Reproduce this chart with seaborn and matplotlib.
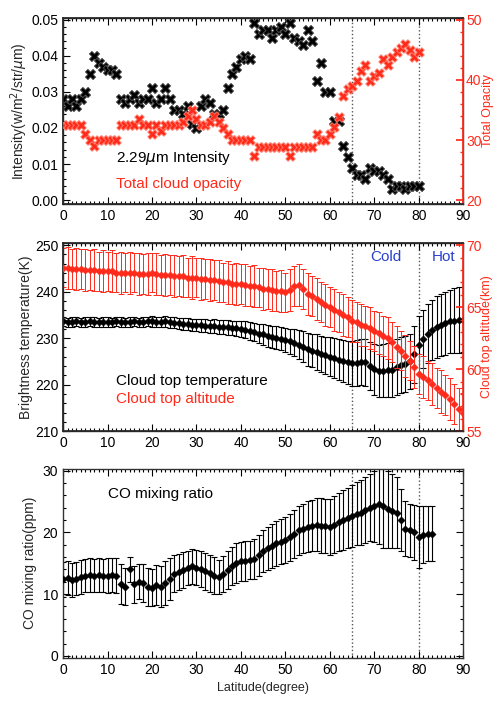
import numpy as np
import pandas as pd
import seaborn as sns
import matplotlib.pyplot as plt
from matplotlib.ticker import AutoMinorLocator, MultipleLocator

# Panel 1: 2.29 um intensity and total cloud opacity
int_lat = list(range(0, 81))
intensity = [
    0.028, 0.026, 0.028, 0.026, 0.028, 0.030, 0.035, 0.040, 0.038, 0.037,
    0.036, 0.036, 0.035, 0.028, 0.027, 0.028, 0.029, 0.027, 0.028, 0.028,
    0.031, 0.027, 0.028, 0.031, 0.028, 0.025, 0.025, 0.024, 0.026, 0.021,
    0.020, 0.026, 0.028, 0.027, 0.024, 0.024, 0.025, 0.031, 0.035, 0.037,
    0.039, 0.040, 0.039, 0.049, 0.046, 0.047, 0.047, 0.045, 0.047, 0.048,
    0.046, 0.049, 0.045, 0.044, 0.043, 0.047, 0.044, 0.033, 0.038, 0.030,
    0.030, 0.022, 0.022, 0.015, 0.012, 0.009, 0.007, 0.007, 0.006, 0.009,
    0.008, 0.008, 0.007, 0.006, 0.003, 0.004, 0.004, 0.003, 0.004, 0.004,
    0.004,
]
opacity = [
    32.5, 32.5, 32.5, 32.5, 32.5, 31.0, 30.0, 29.0, 30.0, 30.0,
    30.0, 30.0, 30.0, 32.5, 32.5, 32.5, 32.5, 33.5, 32.5, 32.5,
    31.0, 32.5, 31.5, 32.5, 32.5, 32.5, 32.5, 33.0, 34.0, 35.0,
    33.5, 32.5, 32.5, 33.0, 34.0, 33.0, 32.0, 31.0, 30.0, 30.0,
    30.0, 30.0, 30.0, 27.4, 28.8, 28.8, 28.8, 28.8, 28.8, 28.8,
    28.8, 27.4, 28.8, 28.8, 28.8, 28.8, 28.8, 31.0, 30.0, 30.0,
    31.0, 32.2, 33.9, 37.3, 38.4, 39.0, 39.8, 41.5, 42.4, 39.8,
    40.7, 41.2, 43.5, 42.4, 43.8, 44.6, 45.3, 46.0, 44.9, 43.8,
    44.6,
]

# Panel 2: cloud top temperature and altitude
bt_lat = list(range(0, 91))
temperature = [
    233.6, 233.4, 233.5, 233.6, 233.4, 233.5, 233.6, 233.5, 233.4, 233.5,
    233.5, 233.4, 233.6, 233.5, 233.4, 233.5, 233.6, 233.4, 233.5, 233.6,
    233.6, 233.5, 233.5, 233.6, 233.4, 233.3, 233.2, 233.1, 233.0, 232.9,
    232.8, 232.8, 232.7, 232.6, 232.6, 232.5, 232.4, 232.3, 232.2, 232.1,
    232.0, 231.8, 231.6, 231.3, 231.0, 230.8, 230.5, 230.3, 230.1, 229.9,
    229.6, 229.3, 229.0, 228.6, 228.2, 227.6, 227.3, 227.0, 226.6, 226.3,
    226.0, 225.7, 225.4, 225.1, 224.8, 224.6, 224.7, 224.9, 224.8, 224.0,
    223.3, 223.0, 223.0, 223.1, 223.2, 223.8, 224.2, 224.4, 225.0, 226.5,
    228.5, 229.8, 231.0, 231.8, 232.4, 232.8, 233.2, 233.6, 233.8, 233.9,
    234.0,
]
temperature_err = [
    1.0, 1.0, 1.0, 1.0, 1.0, 1.0, 1.0, 1.0, 1.0, 1.0,
    1.0, 1.0, 1.0, 1.0, 1.0, 1.0, 1.0, 1.0, 1.0, 1.0,
    1.1, 1.1, 1.1, 1.2, 1.2, 1.2, 1.2, 1.3, 1.3, 1.3,
    1.3, 1.4, 1.4, 1.4, 1.5, 1.5, 1.5, 1.6, 1.6, 1.6,
    1.7, 1.8, 1.9, 2.0, 2.1, 2.2, 2.3, 2.4, 2.5, 2.5,
    2.5, 2.7, 2.9, 3.1, 3.3, 3.5, 3.6, 3.8, 3.9, 4.0,
    4.2, 4.3, 4.4, 4.5, 4.6, 4.8, 4.9, 5.0, 5.1, 5.2,
    5.5, 5.6, 5.7, 5.8, 5.9, 6.0, 6.0, 6.0, 6.0, 6.1,
    6.2, 6.3, 6.4, 6.5, 6.6, 6.7, 6.8, 6.8, 6.9, 7.0,
    7.0,
]
altitude = [
    68.2, 68.2, 68.1, 68.1, 68.1, 68.0, 68.0, 68.0, 67.9, 67.9,
    67.9, 67.9, 67.8, 67.8, 67.8, 67.8, 67.8, 67.7, 67.7, 67.7,
    67.8, 67.7, 67.6, 67.6, 67.6, 67.5, 67.5, 67.5, 67.4, 67.4,
    67.4, 67.3, 67.3, 67.2, 67.2, 67.1, 67.0, 67.0, 66.9, 66.9,
    66.9, 66.8, 66.7, 66.7, 66.6, 66.5, 66.5, 66.4, 66.3, 66.3,
    66.2, 66.4, 66.7, 66.8, 66.5, 66.1, 65.9, 65.7, 65.4, 65.2,
    65.0, 64.8, 64.6, 64.4, 64.2, 63.9, 63.8, 63.6, 63.5, 63.3,
    63.1, 62.9, 62.7, 62.5, 62.2, 61.8, 61.5, 61.1, 60.7, 60.2,
    59.6, 59.4, 59.1, 58.8, 58.5, 58.2, 57.9, 57.6, 57.2, 56.8,
    56.5,
]
altitude_err = [
    1.6, 1.7, 1.6, 1.7, 1.6, 1.7, 1.6, 1.7, 1.6, 1.7,
    1.6, 1.7, 1.6, 1.7, 1.6, 1.7, 1.6, 1.7, 1.6, 1.7,
    1.6, 1.7, 1.6, 1.7, 1.6, 1.7, 1.6, 1.7, 1.6, 1.7,
    1.6, 1.7, 1.6, 1.7, 1.6, 1.7, 1.6, 1.7, 1.6, 1.7,
    1.6, 1.7, 1.6, 1.7, 1.6, 1.7, 1.6, 1.7, 1.6, 1.7,
    1.6, 1.7, 1.6, 1.7, 1.6, 1.7, 1.6, 1.7, 1.6, 1.7,
    1.6, 1.7, 1.6, 1.7, 1.6, 1.7, 1.6, 1.7, 1.6, 1.7,
    1.6, 1.7, 1.6, 1.7, 1.6, 1.7, 1.6, 1.7, 1.6, 1.7,
    1.6, 1.7, 1.6, 1.7, 1.6, 1.7, 1.6, 1.7, 1.6, 1.7,
    1.6,
]

# Panel 3: CO mixing ratio
co_lat = list(range(0, 84))
co = [
    12.4, 12.6, 12.3, 12.5, 12.8, 13.0, 13.1, 13.0, 13.1, 13.0,
    13.0, 13.1, 13.0, 11.6, 11.2, 14.0, 11.6, 12.0, 11.8, 11.2,
    11.0, 11.5, 11.2, 11.8, 12.5, 13.3, 13.6, 13.9, 14.2, 14.5,
    14.3, 14.0, 13.7, 13.4, 13.0, 12.8, 13.3, 13.9, 14.5, 15.0,
    15.3, 15.4, 15.5, 15.7, 16.3, 16.9, 17.4, 17.8, 18.2, 18.5,
    18.7, 19.2, 19.7, 20.3, 20.6, 20.9, 21.1, 21.2, 21.1, 21.0,
    20.9, 21.2, 21.6, 22.0, 22.3, 22.7, 23.0, 23.2, 23.6, 24.0,
    24.2, 24.6, 24.3, 23.7, 23.5, 23.2, 22.0, 20.6, 20.3, 20.0,
    19.3, 19.6, 19.8, 19.8,
]
co_err = [
    2.8, 2.7, 2.8, 2.7, 2.8, 2.7, 2.8, 2.7, 2.8, 2.7,
    2.8, 2.7, 2.8, 3.2, 3.0, 2.0, 3.0, 2.8, 3.0, 3.1,
    3.0, 3.2, 3.3, 3.5, 3.4, 3.0, 2.9, 2.9, 2.8, 2.8,
    2.8, 2.9, 3.0, 3.0, 3.0, 2.8, 2.9, 3.0, 3.1, 3.2,
    3.2, 3.2, 3.1, 3.2, 3.3, 3.4, 3.5, 3.5, 3.6, 3.6,
    3.7, 3.8, 3.9, 4.0, 4.0, 4.1, 4.2, 4.3, 4.4, 4.4,
    4.5, 4.6, 4.7, 4.8, 4.9, 5.0, 5.1, 5.2, 5.3, 5.4,
    5.8, 6.5, 6.8, 6.2, 6.0, 5.8, 5.0, 4.5, 4.3, 4.5,
    5.0, 4.6, 4.4, 4.4,
]

sns.set_theme(style="ticks")
plt.rcParams['font.family'] = ['Liberation Sans', 'DejaVu Sans']
plt.rcParams['mathtext.fontset'] = 'dejavusans'

fig = plt.figure(figsize=(4.97, 7.08), dpi=100)
ax1 = fig.add_axes([0.127, 0.712, 0.805, 0.263])
ax2 = fig.add_axes([0.127, 0.391, 0.805, 0.266])
ax3 = fig.add_axes([0.127, 0.071, 0.805, 0.267])
RED = '#ff2a1a'
FS = 10


def _style(ax, right=True):
    ax.set_xlim(0, 90)
    ax.xaxis.set_major_locator(MultipleLocator(10))
    ax.xaxis.set_minor_locator(AutoMinorLocator(10))
    ax.yaxis.set_minor_locator(AutoMinorLocator(5))
    ax.tick_params(which='both', direction='in', top=True, right=right,
                   labelsize=FS, colors='black', width=0.8)
    ax.tick_params(which='major', length=5)
    ax.tick_params(which='minor', length=2.5)
    for sp in ax.spines.values():
        sp.set_linewidth(1.0)
        sp.set_color('#333333')
    for x in (65, 80):
        ax.axvline(x, color='#555555', linestyle=':', linewidth=1.0, zorder=0)


def _style_twin(tw):
    tw.yaxis.set_minor_locator(AutoMinorLocator(5))
    tw.tick_params(which='both', direction='in', colors=RED, labelsize=FS,
                   pad=2)
    tw.tick_params(which='major', length=5)
    tw.tick_params(which='minor', length=2.5)
    tw.spines['right'].set_color(RED)


# Panel 1
_style(ax1, right=False)
ax1.set_ylim(-0.001, 0.0505)
ax1.set_yticks([0.0, 0.01, 0.02, 0.03, 0.04, 0.05])
ax1.set_yticklabels(['0.00', '0.01', '0.02', '0.03', '0.04', '0.05'])
sns.scatterplot(x=int_lat, y=intensity, ax=ax1, marker='X', s=55,
                color='black', edgecolor='#555555', linewidth=0.6, zorder=3)
ax1.set_ylabel('Intensity(w/m$^2$/str/$\\mu$m)', fontsize=FS, labelpad=1)
tw1 = ax1.twinx()
tw1.set_ylim(19.4, 50.3)
tw1.set_yticks([20, 30, 40, 50])
sns.scatterplot(x=int_lat, y=opacity, ax=tw1, marker='X', s=48,
                color=RED, edgecolor='#ff8070', linewidth=0.6, zorder=3)
_style_twin(tw1)
tw1.set_xlim(0, 90)
tw1.set_ylabel('Total Opacity', color=RED, fontsize=FS - 1, labelpad=0)
ax1.text(12, 0.0105, '2.29$\\mu$m Intensity', fontsize=FS + 1, color='black')
ax1.text(12, 0.0035, 'Total cloud opacity', fontsize=FS + 1, color=RED)

# Panel 2
_style(ax2, right=False)
ax2.set_ylim(210, 250.5)
ax2.set_yticks([210, 220, 230, 240, 250])
ax2.errorbar(bt_lat, temperature, yerr=temperature_err, fmt='none',
             ecolor='black', elinewidth=0.8, capsize=2, capthick=0.8, zorder=2)
sns.scatterplot(x=bt_lat, y=temperature, ax=ax2, marker='D', s=14,
                color='black', edgecolor='black', zorder=3)
ax2.set_ylabel('Brightness temperature(K)', fontsize=FS, labelpad=1)
tw2 = ax2.twinx()
tw2.set_ylim(55, 70.2)
tw2.set_yticks([55, 60, 65, 70])
tw2.errorbar(bt_lat, altitude, yerr=altitude_err, fmt='none',
             ecolor=RED, elinewidth=0.7, capsize=2, capthick=0.7, zorder=2)
sns.scatterplot(x=bt_lat, y=altitude, ax=tw2, marker='D', s=14,
                color=RED, edgecolor=RED, zorder=3)
_style_twin(tw2)
tw2.set_xlim(0, 90)
tw2.set_ylabel('Cloud top altitude(km)', color=RED, fontsize=FS - 1,
               labelpad=0)
ax2.text(12, 220.0, 'Cloud top temperature', fontsize=FS + 1, color='black')
ax2.text(12, 216.0, 'Cloud top altitude', fontsize=FS + 1, color=RED)
ax2.text(72.5, 246.5, 'Cold', fontsize=FS + 1, color='#2a3fd0', ha='center')
ax2.text(85.5, 246.5, 'Hot', fontsize=FS + 1, color='#2a3fd0', ha='center')

# Panel 3
_style(ax3)
ax3.set_ylim(-0.3, 30.3)
ax3.set_yticks([0, 10, 20, 30])
ax3.errorbar(co_lat, co, yerr=co_err, fmt='none', ecolor='black',
             elinewidth=0.8, capsize=2, capthick=0.8, zorder=2)
sns.scatterplot(x=co_lat, y=co, ax=ax3, marker='D', s=14, color='black',
                edgecolor='black', zorder=3)
ax3.set_ylabel('CO mixing ratio(ppm)', fontsize=FS, labelpad=4)
ax3.set_xlabel('Latitude(degree)', fontsize=FS - 1, labelpad=4)
ax3.text(10, 25.5, 'CO mixing ratio', fontsize=FS + 1, color='black')

fig.savefig('out.png', dpi=100)
